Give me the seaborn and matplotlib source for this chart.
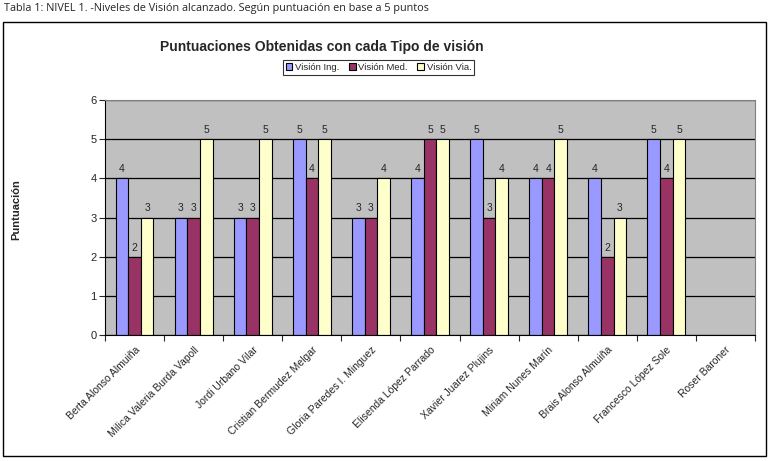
import numpy as np
import pandas as pd
import matplotlib
matplotlib.use('Agg')
from matplotlib import pyplot as plt
from matplotlib.patches import Rectangle
import seaborn as sns

# Datos
alumnos = ['Berta Alonso Almuiña', 'Milica Valeria Burda Vapoll', 'Jordi Urbano Vilar',
           'Cristian Bermudez Melgar', 'Gloria Paredes I. Minguez', 'Elisenda López Parrado',
           'Xavier Juarez Plujins', 'Miriam Nunes Marín', 'Brais Alonso Almuiña',
           'Francesco López Sole', 'Roser Baroner']
series = ['Visión Ing.', 'Visión Med.', 'Visión Via.']
vision_ing = [4, 3, 3, 5, 3, 4, 5, 4, 4, 5, np.nan]
vision_med = [2, 3, 3, 4, 3, 5, 3, 4, 2, 4, np.nan]
vision_via = [3, 5, 5, 5, 4, 5, 4, 5, 3, 5, np.nan]
colores = ['#9999FF', '#993366', '#FFFFCC']

df = pd.DataFrame({'alumno': alumnos * 3,
                   'serie': [series[0]] * 11 + [series[1]] * 11 + [series[2]] * 11,
                   'puntos': vision_ing + vision_med + vision_via})

sns.set_style('white')
plt.rcParams['font.family'] = ['Liberation Sans', 'DejaVu Sans']

fig = plt.figure(figsize=(7.71, 4.61), dpi=100)
ax = fig.add_axes([105 / 771, 1 - 335 / 461, 650 / 771, 235 / 461])

sns.barplot(data=df, x='alumno', y='puntos', hue='serie', order=alumnos, hue_order=series,
            palette=colores, width=0.64, edgecolor='black', linewidth=0.8, saturation=1,
            ax=ax, legend=True)

for cont in ax.containers:
    ax.bar_label(cont, fmt='%g', padding=3, fontsize=7.5)

ax.set_facecolor('#C0C0C0')
ax.set_ylim(0, 6)
ax.set_xlim(-0.5, 10.5)
ax.set_yticks(range(7))
ax.yaxis.grid(True, color='black', linewidth=0.9)
ax.set_axisbelow(True)
ax.set_xlabel('')
ax.set_ylabel('')
ax.tick_params(axis='y', left=True, length=4, width=0.8, labelsize=8, pad=2)
ax.set_xticks(range(11))
ax.set_xticklabels(alumnos, rotation=45, ha='right', rotation_mode='anchor', fontsize=7.5)
ax.set_xticks(np.arange(-0.5, 11, 1), minor=True)
ax.tick_params(axis='x', which='major', length=0, pad=7)
ax.tick_params(axis='x', which='minor', bottom=True, length=4, width=0.8)
for s in ['left', 'bottom']:
    ax.spines[s].set_color('black')
for s in ['top', 'right']:
    ax.spines[s].set_color('#808080')

leg = ax.legend(loc='upper left', bbox_to_anchor=((283 - 105) / 650, (100 - 60) / 235 + 1),
                ncol=3, fontsize=6.8, frameon=True, fancybox=False, edgecolor='black',
                handlelength=0.7, handleheight=0.7, handletextpad=0.3, columnspacing=1.0,
                borderpad=0.3, borderaxespad=0)
leg.get_frame().set_linewidth(0.8)

fig.text(322 / 771, 1 - 47 / 461, 'Puntuaciones Obtenidas con cada Tipo de visión',
         ha='center', va='center', fontsize=10, fontweight='bold')
fig.text(16 / 771, 1 - 210 / 461, 'Puntuación', rotation=90, ha='center', va='center',
         fontsize=8, fontweight='bold')
fig.text(4 / 771, 1 - 8 / 461, 'Tabla 1: NIVEL 1. -Niveles de Visión alcanzado. Según puntuación en base a 5 puntos',
         ha='left', va='center', fontsize=7.8, family=['Open Sans', 'DejaVu Sans'])

fig.patches.append(Rectangle((3 / 771, 5 / 461), 763 / 771, 434 / 461, transform=fig.transFigure,
                             fill=False, edgecolor='black', linewidth=1))

fig.savefig('out.png', dpi=100)
